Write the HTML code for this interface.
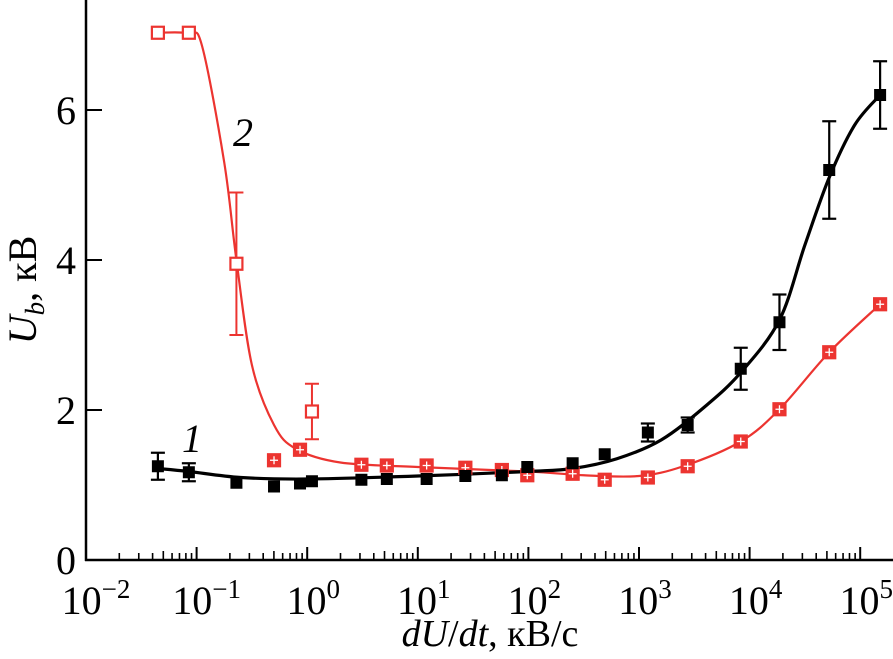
<!DOCTYPE html>
<html><head><meta charset="utf-8"><style>
body{margin:0;background:#fff}
svg{display:block;font-family:"Liberation Serif",serif}
</style></head><body>
<svg id="chart" width="893" height="659" viewBox="0 0 893 659" xmlns="http://www.w3.org/2000/svg">
<g id="axes"></g>
<g id="plot"></g>
<text x="182" y="452" font-size="40" font-style="italic">1</text>
<text x="233" y="146" font-size="40" font-style="italic">2</text>
<text transform="translate(36,290) rotate(-90)" text-anchor="middle" font-size="40"><tspan font-style="italic">U</tspan><tspan font-style="italic" font-size="27" dy="8">b</tspan><tspan dy="-8">, кВ</tspan></text>
<text x="490" y="646" text-anchor="middle" font-size="38"><tspan font-style="italic">dU</tspan>/<tspan font-style="italic">dt</tspan>, кВ/с</text>
</svg>
<script>
const xLogs = [-1.35,-1.07,-0.64,-0.30,-0.065,0.043,0.49,0.72,1.08,1.43,1.76,1.99,2.40,2.69,3.08,3.44,3.92,4.27,4.72,5.18];
const s1Values = [1.25,1.17,1.03,0.98,1.02,1.05,1.07,1.08,1.08,1.12,1.13,1.24,1.29,1.41,1.70,1.80,2.55,3.17,5.20,6.20];
const s1Errors = [0.18,0.12,0,0,0,0,0,0,0,0,0,0,0,0,0.12,0.1,0.28,0.37,0.65,0.45];
const s2Values = [7.03,7.03,3.95,1.33,1.47,1.98,1.27,1.26,1.26,1.23,1.20,1.13,1.15,1.07,1.10,1.25,1.58,2.01,2.77,3.41];
const s2Errors = [0,0,0.95,0,0,0.37,0,0,0,0,0,0,0,0,0,0,0,0,0,0];
const s1CurveX = [-1.35,-1.07,-0.6,0,1,2,2.4,2.8,3.2,3.6,3.92,4.27,4.5,4.72,4.95,5.18];
const s1CurveY = [1.22,1.18,1.1,1.08,1.12,1.18,1.22,1.35,1.6,2.05,2.5,3.2,4.2,5.1,5.8,6.2];
const s2CurveX = [-1.35,-1.07,-0.95,-0.75,-0.64,-0.5,-0.3,-0.1,0.3,1,2,2.5,3,3.4,3.92,4.27,4.72,5.18];
const s2CurveY = [7.03,7.02,6.85,5.3,4.0,2.6,1.8,1.48,1.3,1.24,1.18,1.13,1.12,1.25,1.58,2.01,2.77,3.41];
const xDecades = [-2,-1,0,1,2,3,4,5];
const yTicks = [0,2,4,6];

const NS="http://www.w3.org/2000/svg";
const X0=86, DEC=110.6, Y0=560, YU=75;
const xs=l=>X0+(l+2)*DEC, ys=v=>Y0-v*YU;
const RED="#ec3430";
function mk(t,a,p){const e=document.createElementNS(NS,t);for(const k in a)e.setAttribute(k,a[k]);p.appendChild(e);return e;}
const axes=document.getElementById('axes'), plot=document.getElementById('plot');

let e=mk('line',{x1:X0,y1:0,x2:X0,y2:Y0+1,stroke:'#000','stroke-width':2.5},axes);


e=mk('line',{x1:X0-1,y1:Y0,x2:893,y2:Y0,stroke:'#000','stroke-width':2.5},axes);


xDecades.forEach(d=>{
  if(d>-2){e=mk('line',{x1:xs(d),y1:Y0,x2:xs(d),y2:Y0-13,stroke:'#000','stroke-width':2},axes);
  
  }
  if(d<5)for(let m=2;m<10;m++){const x=xs(d+Math.log10(m));
    e=mk('line',{x1:x,y1:Y0,x2:x,y2:Y0-(m==5?9:7),stroke:'#000','stroke-width':1.6},axes);
    
    }
  const t=mk('text',{x:xs(d)+(d<0?10:6),y:614,'text-anchor':'middle','font-size':40},axes);
  
  
  t.innerHTML='10<tspan font-size="27" dy="-16">'+(d<0?'\u2212'+(-d):d)+'</tspan>';
});
yTicks.forEach(v=>{
  if(v>0){e=mk('line',{x1:X0,y1:ys(v),x2:X0+16,y2:ys(v),stroke:'#000','stroke-width':2},axes);
  
  }
  const t=mk('text',{x:66,y:ys(v)+14,'text-anchor':'middle','font-size':40},axes);
  
  
  t.textContent=v;
});
function path(X,Y){const p=X.map((x,i)=>[xs(x),ys(Y[i])]);let d='M'+p[0];
  for(let i=0;i<p.length-1;i++){const a=p[i-1]||p[i],b=p[i],c=p[i+1],n=p[i+2]||c;
    d+=' C'+(b[0]+(c[0]-a[0])/6)+','+(b[1]+(c[1]-a[1])/6)+' '+(c[0]-(n[0]-b[0])/6)+','+(c[1]-(n[1]-b[1])/6)+' '+c;}
  return d;}
e=mk('path',{d:path(s2CurveX,s2CurveY),fill:'none',stroke:RED,'stroke-width':2.2},plot);


e=mk('path',{d:path(s1CurveX,s1CurveY),fill:'none',stroke:'#000','stroke-width':3.2},plot);


function err(x,v,er,col,w){if(!er)return;const X=xs(x),a=ys(v+er),b=ys(v-er);
  const g=mk('g',{stroke:col,'stroke-width':w},plot);
  
  
  mk('line',{x1:X,y1:a,x2:X,y2:b},g);mk('line',{x1:X-7,y1:a,x2:X+7,y2:a},g);mk('line',{x1:X-7,y1:b,x2:X+7,y2:b},g);}
xLogs.forEach((x,i)=>{
  err(x,s2Values[i],s2Errors[i],RED,2);
  const X=xs(x),Y=ys(s2Values[i]);
  const g=mk('g',{},plot);
  
  
  const open=i<3||i==5;
  mk('rect',{x:X-6,y:Y-6,width:12,height:12,fill:open?'#fff':RED,stroke:RED,'stroke-width':2.2},g);
  if(!open){mk('line',{x1:X,y1:Y-4,x2:X,y2:Y+4,stroke:'#fff','stroke-width':1.3},g);mk('line',{x1:X-4,y1:Y,x2:X+4,y2:Y,stroke:'#fff','stroke-width':1.3},g);}
});
xLogs.forEach((x,i)=>{
  err(x,s1Values[i],s1Errors[i],'#000',2.2);
  const r=mk('rect',{x:xs(x)-6,y:ys(s1Values[i])-6,width:12,height:12,fill:'#000'},plot);
  
  
});
</script>
</body></html>
